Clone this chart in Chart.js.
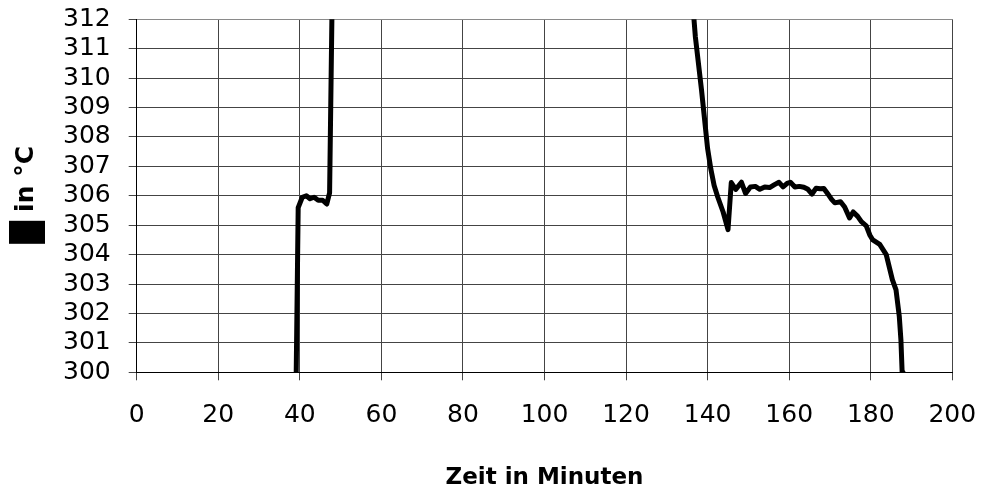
<!DOCTYPE html>
<html>
<head>
<meta charset="utf-8">
<script src="https://cdn.jsdelivr.net/npm/chart.js@4.4.1/dist/chart.umd.min.js"></script>
<style>
  html, body { margin: 0; padding: 0; background: #ffffff; }
  #wrap { width: 982px; height: 492px; }
</style>
</head>
<body>
<div id="wrap"><canvas id="c" width="982" height="492"></canvas></div>
<script>
// Time axis (minutes) and temperature readings (°C)
const minutes = [
  38.9, 39.6, 40.6, 41.6, 42.5, 43.5, 44.5, 45.6, 46.6, 47.3, 48.1,
  50, 60, 80, 100, 120, 130,
  135.5, 137.0, 138.5, 140.0, 140.8, 141.6, 142.5, 143.8, 145.0,
  145.8, 146.9, 148.3, 149.3, 150.5, 151.7, 152.8, 154.0, 155.2, 156.4,
  157.5, 158.5, 159.5, 160.3, 161.4, 162.5, 163.6, 164.6, 165.6, 166.6,
  167.6, 168.5, 169.4, 170.4, 171.2, 172.6, 173.6, 174.8, 175.7, 176.8,
  177.7, 178.9, 179.8, 180.5, 182.2, 183.8, 185.3, 186.2, 187.0, 187.4,
  187.7, 187.9
];
const temperature = [
  297.5, 305.6, 305.95, 306.0, 305.9, 305.95, 305.85, 305.85, 305.72, 306.1, 314.5,
  321, 327, 329, 328, 325, 320,
  314.0, 311.4, 309.6, 307.6, 306.9, 306.35, 305.95, 305.45, 304.85,
  306.45, 306.22, 306.46, 306.08, 306.3, 306.32, 306.22, 306.3, 306.28, 306.38,
  306.46, 306.3, 306.42, 306.46, 306.3, 306.32, 306.29, 306.22, 306.06, 306.26,
  306.24, 306.25, 306.08, 305.88, 305.76, 305.8, 305.62, 305.25, 305.45, 305.3,
  305.12, 304.98, 304.66, 304.5, 304.35, 304.0, 303.15, 302.8, 301.9, 301.1,
  300.0, 299.0
];
const xTicks = [0, 20, 40, 60, 80, 100, 120, 140, 160, 180, 200];
const yTicks = [300, 301, 302, 303, 304, 305, 306, 307, 308, 309, 310, 311, 312];

const yTitle = '\u2003 in °C';
const xTitle = 'Zeit in Minuten';

const points = minutes.map((m, i) => ({ x: m, y: temperature[i] }));

// Filled symbol block in front of the rotated unit label
const symbolBlock = {
  id: 'symbolBlock',
  afterDraw(chart) {
    const { ctx, chartArea } = chart;
    const mid = (chartArea.top + chartArea.bottom) / 2;
    ctx.save();
    ctx.fillStyle = '#000000';
    ctx.fillRect(9, mid + 25, 36, 23);
    ctx.restore();
  }
};

const tickFont = { family: 'DejaVu Sans', size: 25 };

new Chart(document.getElementById('c'), {
  type: 'line',
  data: {
    datasets: [{
      data: points,
      borderColor: '#000000',
      borderWidth: 5,
      pointRadius: 0,
      tension: 0,
      borderJoinStyle: 'round',
      borderCapStyle: 'butt',
      fill: false
    }]
  },
  options: {
    responsive: false,
    animation: false,
    devicePixelRatio: 1,
    layout: { padding: { top: 19.3, right: 29.7, left: 0, bottom: 0 } },
    plugins: { legend: { display: false }, tooltip: { enabled: false } },
    scales: {
      x: {
        type: 'linear',
        min: 0,
        max: 200,
        afterBuildTicks(scale) { scale.ticks = xTicks.map(v => ({ value: v })); },
        afterFit(scale) {
          scale.height = 119.7;
          scale.paddingLeft = 0;
          scale.paddingRight = 0;
        },
        grid: {
          color: '#444444',
          lineWidth: 1,
          drawTicks: true,
          tickLength: 8,
          tickColor: '#444444'
        },
        border: { display: true, color: '#000000', width: 1 },
        ticks: {
          color: '#000000',
          font: tickFont,
          padding: 20,
          maxRotation: 0,
          autoSkip: false
        },
        title: {
          display: true,
          text: xTitle,
          color: '#000000',
          font: { family: 'DejaVu Sans', size: 23, weight: 'bold' },
          padding: { top: 0, bottom: 0 }
        }
      },
      y: {
        type: 'linear',
        min: 300,
        max: 312,
        afterBuildTicks(scale) { scale.ticks = yTicks.map(v => ({ value: v })); },
        afterFit(scale) {
          scale.width = 136.7;
          scale.paddingTop = 0;
          scale.paddingBottom = 0;
        },
        grid: {
          color: (c) => (c.tick && c.tick.value === 312 ? '#8a8a8a' : '#444444'),
          lineWidth: 1,
          drawTicks: true,
          tickLength: 8,
          tickColor: '#444444'
        },
        border: { display: true, color: '#000000', width: 1 },
        ticks: {
          color: '#000000',
          font: tickFont,
          padding: 18,
          autoSkip: false
        },
        title: {
          display: true,
          text: yTitle,
          color: '#000000',
          font: { family: 'DejaVu Sans', size: 25, weight: 'bold' },
          padding: { top: 11, bottom: 0 }
        }
      }
    }
  },
  plugins: [symbolBlock]
});
</script>
</body>
</html>
